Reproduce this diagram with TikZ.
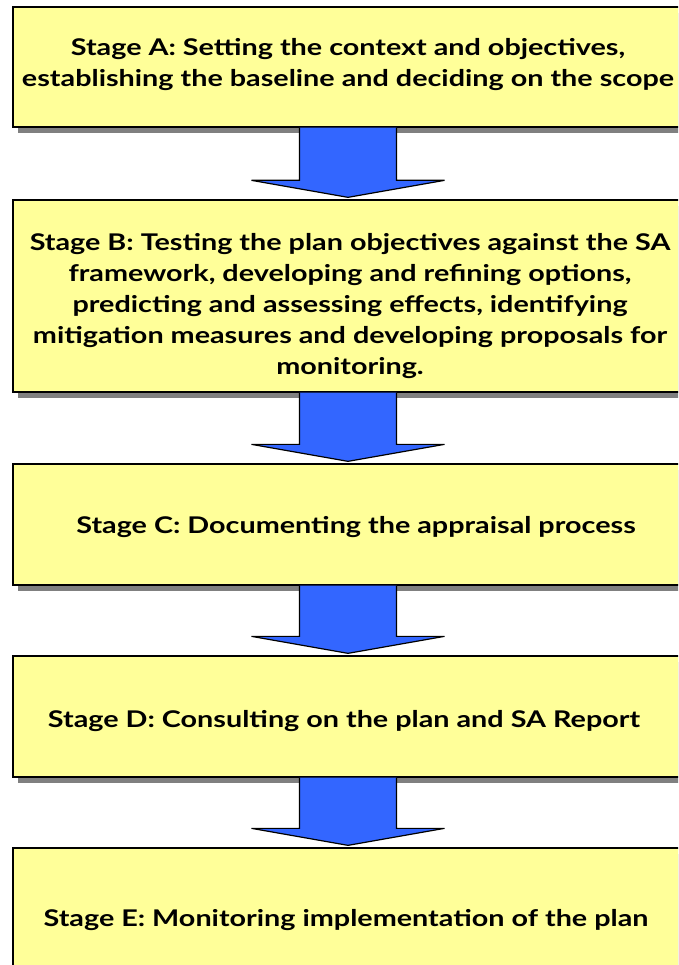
\documentclass[tikz,border=0pt]{standalone}
\usepackage{fontspec}
\setmainfont{Lato}[FakeStretch=1.25]
\usetikzlibrary{calc}
\definecolor{stagefill}{HTML}{FFFF99}
\definecolor{stageshadow}{HTML}{808080}
\definecolor{flowblue}{HTML}{3366FF}
\begin{document}
\begin{tikzpicture}[x=1pt,y=1pt,
  stagebox/.style={draw=black, line width=1.3pt, fill=stagefill,
    minimum width=690pt, inner sep=0pt},
  stagetext/.style={inner sep=0pt, align=center,
    font=\fontsize{23}{31}\selectfont\bfseries},
  stageshade/.style={fill=stageshadow},
  flowarrow/.style={draw=black, line width=1.2pt, fill=flowblue, line join=miter}]
\useasboundingbox (0,0) rectangle (678,-965);
\clip (0,0) rectangle (678,-965);

% drop shadows behind the stage boxes
\foreach \cy/\h in {-67/120, -296/192, -524.5/121, -716.5/121, -908.5/121}
  \fill[stageshade] (18,\cy-\h/2-6) rectangle (710,\cy+\h/2-6);

% stage boxes
\node[stagebox, minimum height=120pt] (A) at (358,-67) {};
\node[stagebox, minimum height=192pt] (B) at (358,-296) {};
\node[stagebox, minimum height=121pt] (C) at (358,-524.5) {};
\node[stagebox, minimum height=121pt] (D) at (358,-716.5) {};
\node[stagebox, minimum height=121pt] (E) at (358,-908.5) {};

% stage labels
\node[stagetext] (At) at (348,-64.5)
  {Stage A: Setting the context and objectives,\\ establishing the baseline and deciding on the scope};
\node[stagetext] (Bt) at (350,-306)
  {Stage B: Testing the plan objectives against the SA\\ framework, developing and refining options,\\ predicting and assessing effects, identifying\\ mitigation measures and developing proposals for\\ monitoring.};
\node[stagetext] (Ct) at (356,-527) {Stage C: Documenting the appraisal process};
\node[stagetext] (Dt) at (344,-721) {Stage D: Consulting on the plan and SA Report};
\node[stagetext] (Et) at (346,-920) {Stage E: Monitoring implementation of the plan};

% block arrows between consecutive stages
\foreach \a/\b in {A/B, B/C, C/D, D/E}
  \draw[flowarrow]
    ($(\a.south)+(-58.5,0)$) -- ($(\b.north)+(-58.5,19)$) -- ($(\b.north)+(-106.5,19)$)
    -- ($(\b.north)+(-10,2)$)
    -- ($(\b.north)+(86.5,19)$) -- ($(\b.north)+(38.5,19)$) -- ($(\a.south)+(38.5,0)$);
\end{tikzpicture}
\end{document}
